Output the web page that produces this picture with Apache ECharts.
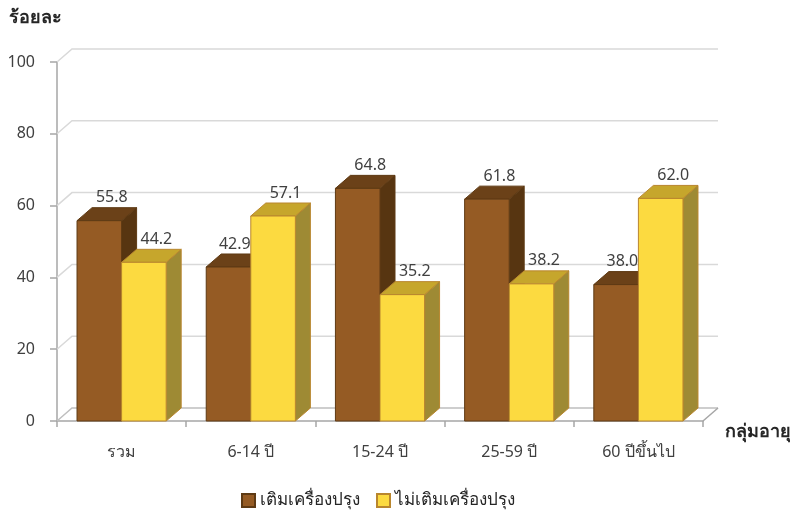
<!DOCTYPE html>
<html>
<head>
<meta charset="utf-8">
<script src="https://cdn.jsdelivr.net/npm/echarts@6/dist/echarts.min.js"></script>
<style>
  html, body { margin: 0; padding: 0; background: #fff; }
  #chart { width: 798px; height: 514px; }
</style>
</head>
<body>
<div id="chart"></div>
<script>
// กลุ่มอายุ
const categories = ['รวม', '6-14 ปี', '15-24 ปี', '25-59 ปี', '60 ปีขึ้นไป']
// ร้อยละ
const seasoned = [55.8, 42.9, 64.8, 61.8, 38.0]
const notSeasoned = [44.2, 57.1, 35.2, 38.2, 62.0]
const yTicks = [0, 20, 40, 60, 80, 100]

const FONT = '"Noto Sans", "DejaVu Sans", sans-serif'
const DX = 15 // 3d depth
const DY = -13

const brown = { front: '#955b24', top: '#6b4118', side: '#573511', line: '#5e3a14' }
const yellow = { front: '#fcda40', top: '#c6a62c', side: '#9e8a34', line: '#b9862e' }

function barRender(side, c, other) {
  return function(params, api) {
    const ci = api.value(0)
    const v = api.value(1)
    const base = api.coord([ci, 0])
    const top = api.coord([ci, v])
    const band = api.size([1, 0])[0]
    const w = band * 0.345
    const x0 = side === 0 ? base[0] - w : base[0]
    const x1 = x0 + w
    const yt = top[1]
    const yb = base[1]
    const st = { stroke: c.line, lineWidth: 1 }
    // label sits over the top face, pulled left if the next bar is taller
    let lx = x0 + w / 2 + 12.5
    if (other && other[ci] > v) lx = Math.min(lx, x1 - 16)
    return {
      type: 'group',
      children: [
        {
          type: 'polygon',
          shape: { points: [[x1, yt], [x1 + DX, yt + DY], [x1 + DX, yb + DY], [x1, yb]] },
          style: Object.assign({ fill: c.side }, st)
        },
        {
          type: 'polygon',
          shape: { points: [[x0, yt], [x1, yt], [x1 + DX, yt + DY], [x0 + DX, yt + DY]] },
          style: Object.assign({ fill: c.top }, st)
        },
        {
          type: 'rect',
          shape: { x: x0, y: yt, width: w, height: yb - yt },
          style: Object.assign({ fill: c.front }, st)
        },
        {
          type: 'text',
          z2: 100,
          style: {
            text: v.toFixed(1),
            x: lx,
            y: yt + DY - 2,
            textAlign: 'center',
            textVerticalAlign: 'bottom',
            fill: '#404040',
            font: '16px ' + FONT
          }
        }
      ]
    }
  }
}

function wallRender(params, api) {
  const v = api.value(1)
  const cs = params.coordSys
  const y = api.coord([0, v])[1]
  const children = [{
    type: 'polyline',
    shape: { points: [[cs.x, y], [cs.x + DX, y + DY], [cs.x + cs.width + DX, y + DY]] },
    style: { stroke: v === 0 ? '#bfbfbf' : '#d9d9d9', lineWidth: 1.5, fill: null }
  }]
  if (v === 0) {
    children.push({
      type: 'line',
      shape: { x1: cs.x + cs.width, y1: y, x2: cs.x + cs.width + DX, y2: y + DY },
      style: { stroke: '#a6a6a6', lineWidth: 1.5 }
    })
  }
  return { type: 'group', children: children }
}

const chart = echarts.init(document.getElementById('chart'))
chart.setOption({
  animation: false,
  textStyle: { fontFamily: FONT },
  title: [
    {
      text: 'ร้อยละ',
      left: 4,
      top: 4,
      textStyle: { fontFamily: FONT, fontSize: 18, fontWeight: 'bold', color: '#262626' }
    },
    {
      text: 'กลุ่มอายุ',
      left: 720,
      top: 418,
      textStyle: { fontFamily: FONT, fontSize: 18, fontWeight: 'bold', color: '#262626' }
    }
  ],
  legend: {
    left: 236,
    top: 487,
    itemWidth: 13,
    itemHeight: 13,
    itemGap: 16,
    icon: 'rect',
    textStyle: { fontFamily: FONT, fontSize: 17, color: '#262626' },
    data: ['เติมเครื่องปรุง', 'ไม่เติมเครื่องปรุง']
  },
  grid: {
    left: 57,
    right: 95,
    top: 62,
    bottom: 93
  },
  xAxis: {
    type: 'category',
    data: categories,
    axisLine: { lineStyle: { color: '#a6a6a6', width: 1.5 } },
    axisTick: { show: true, length: 6, lineStyle: { color: '#a6a6a6', width: 1.5 } },
    axisLabel: { color: '#404040', fontSize: 16, margin: 23, fontFamily: FONT }
  },
  yAxis: {
    type: 'value',
    min: 0,
    max: 100,
    interval: 20,
    axisLine: { show: true, lineStyle: { color: '#a6a6a6', width: 1.5 } },
    axisTick: { show: true, length: 7, lineStyle: { color: '#a6a6a6', width: 1.5 } },
    splitLine: { show: false },
    axisLabel: { color: '#404040', fontSize: 16, margin: 22, fontFamily: FONT }
  },
  series: [
    {
      type: 'custom',
      name: 'wall',
      silent: true,
      renderItem: wallRender,
      data: yTicks.map(v => [0, v]),
      z: 1
    },
    {
      type: 'custom',
      name: 'เติมเครื่องปรุง',
      renderItem: barRender(0, brown, notSeasoned),
      itemStyle: { color: brown.front, borderColor: brown.line, borderWidth: 1 },
      data: seasoned.map((v, i) => [i, v]),
      z: 2
    },
    {
      type: 'custom',
      name: 'ไม่เติมเครื่องปรุง',
      renderItem: barRender(1, yellow, null),
      itemStyle: { color: yellow.front, borderColor: yellow.line, borderWidth: 1 },
      data: notSeasoned.map((v, i) => [i, v]),
      z: 2
    }
  ]
})
</script>
</body>
</html>
